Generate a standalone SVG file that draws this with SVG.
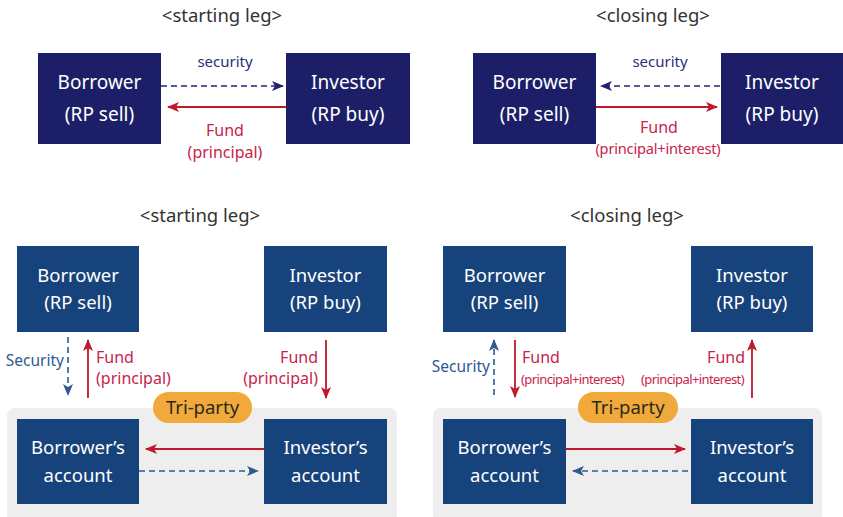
<svg xmlns="http://www.w3.org/2000/svg" width="843" height="517" viewBox="0 0 843 517">
<defs>
<style>
text{font-family:"Noto Sans","Open Sans","Liberation Sans",sans-serif;}
.title{font-size:18.5px;fill:#333;text-anchor:middle;}
.nd1{fill:#1c1f68;}
.nd2{fill:#17437c;}
.bt{font-size:19px;fill:#fff;text-anchor:middle;}
.bt2{font-size:18.5px;fill:#fff;text-anchor:middle;}
.lb{font-size:16px;fill:#c8234a;}
.lbm{font-size:14.6px;fill:#c8234a;letter-spacing:-0.2px;}
.lbs{font-size:13px;fill:#c8234a;letter-spacing:-0.6px;}
.sec1{font-size:15px;fill:#2a2f78;}
.sec2{font-size:15.5px;fill:#2e5a92;}
.red{stroke:#c0182c;stroke-width:1.8;fill:none;}
.dash1{stroke:#1f2470;stroke-width:1.6;fill:none;stroke-dasharray:6 4;}
.dash2{stroke:#2e5a92;stroke-width:1.6;fill:none;stroke-dasharray:6 4;}
.panel{fill:#eeeeee;}
.pill{fill:#f0a93a;}
.pt{font-size:18.5px;fill:#2a2a1a;text-anchor:middle;}
</style>
<marker id="mr" viewBox="0 0 12 10" refX="11" refY="5" markerWidth="12" markerHeight="10" markerUnits="userSpaceOnUse" orient="auto">
<path d="M0,0 L12,5 L0,10 L3,5 Z" fill="#c0182c"/>
</marker>
<marker id="mb1" viewBox="0 0 12 10" refX="11" refY="5" markerWidth="12" markerHeight="10" markerUnits="userSpaceOnUse" orient="auto">
<path d="M0,0 L12,5 L0,10 L3,5 Z" fill="#1f2470"/>
</marker>
<marker id="mb2" viewBox="0 0 12 10" refX="11" refY="5" markerWidth="12" markerHeight="10" markerUnits="userSpaceOnUse" orient="auto">
<path d="M0,0 L12,5 L0,10 L3,5 Z" fill="#2e5a92"/>
</marker>
</defs>

<!-- titles -->
<text class="title" x="222" y="22">&lt;starting leg&gt;</text>
<text class="title" x="653" y="22">&lt;closing leg&gt;</text>
<text class="title" x="200" y="222">&lt;starting leg&gt;</text>
<text class="title" x="627" y="222">&lt;closing leg&gt;</text>

<!-- panels -->
<rect class="panel" x="7" y="408" width="390" height="115" rx="8"/>
<rect class="panel" x="433" y="408" width="389" height="115" rx="8"/>

<!-- top-left -->
<g id="tl-borrower"><rect class="nd1" x="38" y="53" width="123" height="91"/><text class="bt" x="99.5" y="89">Borrower</text><text class="bt" x="99.5" y="121">(RP sell)</text></g>
<g id="tl-investor"><rect class="nd1" x="286" y="53" width="124" height="91"/><text class="bt" x="348" y="89">Investor</text><text class="bt" x="348" y="121">(RP buy)</text></g>
<!-- top-right -->
<g id="tr-borrower"><rect class="nd1" x="473" y="53" width="123" height="91"/><text class="bt" x="534.5" y="89">Borrower</text><text class="bt" x="534.5" y="121">(RP sell)</text></g>
<g id="tr-investor"><rect class="nd1" x="721" y="53" width="122" height="91"/><text class="bt" x="782" y="89">Investor</text><text class="bt" x="782" y="121">(RP buy)</text></g>

<!-- bottom-left -->
<g id="bl-borrower"><rect class="nd2" x="17" y="246" width="122" height="86"/><text class="bt2" x="78" y="282">Borrower</text><text class="bt2" x="78" y="309">(RP sell)</text></g>
<g id="bl-investor"><rect class="nd2" x="264" y="246" width="123" height="86"/><text class="bt2" x="325.5" y="282">Investor</text><text class="bt2" x="325.5" y="309">(RP buy)</text></g>
<g id="bl-baccount"><rect class="nd2" x="17" y="419" width="122" height="85"/><text class="bt2" x="78" y="454">Borrower’s</text><text class="bt2" x="78" y="482">account</text></g>
<g id="bl-iaccount"><rect class="nd2" x="264" y="419" width="123" height="85"/><text class="bt2" x="325.5" y="454">Investor’s</text><text class="bt2" x="325.5" y="482">account</text></g>
<g id="bl-triparty"><rect class="pill" x="153" y="392" width="99" height="31" rx="15.5"/><text class="pt" x="202.5" y="414">Tri-party</text></g>

<!-- bottom-right -->
<g id="br-borrower"><rect class="nd2" x="443" y="246" width="123" height="86"/><text class="bt2" x="504.5" y="282">Borrower</text><text class="bt2" x="504.5" y="309">(RP sell)</text></g>
<g id="br-investor"><rect class="nd2" x="691" y="246" width="122" height="86"/><text class="bt2" x="752" y="282">Investor</text><text class="bt2" x="752" y="309">(RP buy)</text></g>
<g id="br-baccount"><rect class="nd2" x="443" y="419" width="123" height="85"/><text class="bt2" x="504.5" y="454">Borrower’s</text><text class="bt2" x="504.5" y="482">account</text></g>
<g id="br-iaccount"><rect class="nd2" x="691" y="419" width="122" height="85"/><text class="bt2" x="752" y="454">Investor’s</text><text class="bt2" x="752" y="482">account</text></g>
<g id="br-triparty"><rect class="pill" x="578" y="392" width="100" height="31" rx="15.5"/><text class="pt" x="628" y="414">Tri-party</text></g>

<!-- connectors -->
<g id="connectors">
<!-- top-left -->
<line class="dash1" x1="161" y1="86" x2="283" y2="86" marker-end="url(#mb1)"/>
<line class="red" x1="286" y1="107" x2="168" y2="107" marker-end="url(#mr)"/>
<!-- top-right -->
<line class="dash1" x1="720" y1="86" x2="601" y2="86" marker-end="url(#mb1)"/>
<line class="red" x1="596" y1="107" x2="717" y2="107" marker-end="url(#mr)"/>
<!-- bottom-left -->
<line class="dash2" x1="68" y1="337" x2="68" y2="395" marker-end="url(#mb2)"/>
<line class="red" x1="88" y1="398" x2="88" y2="340" marker-end="url(#mr)"/>
<line class="red" x1="326" y1="340" x2="326" y2="398" marker-end="url(#mr)"/>
<line class="red" x1="264" y1="449" x2="146" y2="449" marker-end="url(#mr)"/>
<line class="dash2" x1="139" y1="471" x2="258" y2="471" marker-end="url(#mb2)"/>
<!-- bottom-right -->
<line class="dash2" x1="494" y1="395" x2="494" y2="340" marker-end="url(#mb2)"/>
<line class="red" x1="515" y1="340" x2="515" y2="397" marker-end="url(#mr)"/>
<line class="red" x1="752" y1="398" x2="752" y2="340" marker-end="url(#mr)"/>
<line class="red" x1="566" y1="449" x2="685" y2="449" marker-end="url(#mr)"/>
<line class="dash2" x1="688" y1="471" x2="573" y2="471" marker-end="url(#mb2)"/>
</g>

<!-- labels -->
<text class="sec1" x="225" y="67" text-anchor="middle">security</text>
<text class="lb" x="225" y="136" text-anchor="middle">Fund</text>
<text class="lb" x="225" y="158" text-anchor="middle">(principal)</text>
<text class="sec1" x="660" y="67" text-anchor="middle">security</text>
<text class="lb" x="659" y="133" text-anchor="middle">Fund</text>
<text class="lbm" x="658" y="154" text-anchor="middle">(principal+interest)</text>

<text class="sec2" x="64" y="366" text-anchor="end">Security</text>
<text class="lb" x="96" y="363">Fund</text>
<text class="lb" x="96" y="384">(principal)</text>
<text class="lb" x="318" y="363" text-anchor="end">Fund</text>
<text class="lb" x="318" y="384" text-anchor="end">(principal)</text>

<text class="sec2" x="490" y="372" text-anchor="end">Security</text>
<text class="lb" x="522" y="363">Fund</text>
<text class="lbs" x="521" y="384">(principal+interest)</text>
<text class="lb" x="745" y="363" text-anchor="end">Fund</text>
<text class="lbs" x="744" y="384" text-anchor="end">(principal+interest)</text>
</svg>
